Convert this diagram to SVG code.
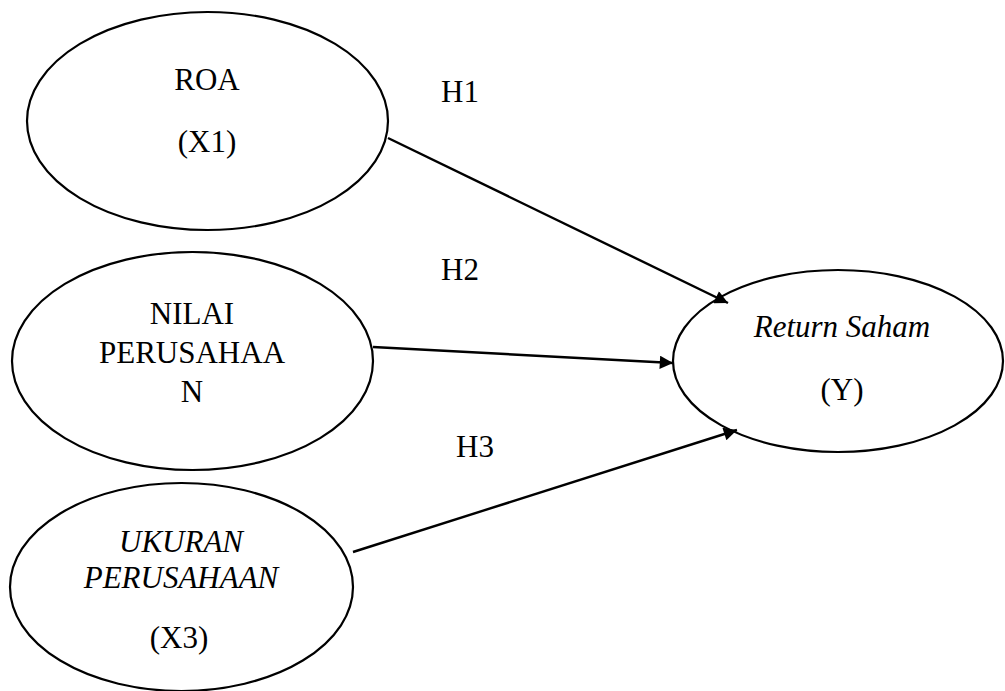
<svg xmlns="http://www.w3.org/2000/svg" width="1005" height="691" viewBox="0 0 1005 691">
<defs>
<style>
.node ellipse{fill:#fff;stroke:#000;stroke-width:2.2}
text{font-family:"Times New Roman",Times,"Liberation Serif","DejaVu Serif",serif;font-size:31px;fill:#000;text-anchor:middle}
.it{font-style:italic}
.conn line{stroke:#000;stroke-width:2.4}
</style>
<marker id="arr" viewBox="0 0 10 10" refX="10" refY="5" markerWidth="6.5" markerHeight="5.5" markerUnits="strokeWidth" orient="auto">
<path d="M0,0 L10,5 L0,10 Z" fill="#000"/>
</marker>
</defs>
<rect width="1005" height="691" fill="#fff"/>
<g id="roa" class="node">
<ellipse cx="207.5" cy="121" rx="180.5" ry="109"/>
<text x="207" y="90">ROA</text>
<text x="207" y="152">(X1)</text>
</g>
<g id="nilai" class="node">
<ellipse cx="192.5" cy="361" rx="180.5" ry="109"/>
<text x="192" y="324">NILAI</text>
<text x="192" y="363">PERUSAHAA</text>
<text x="192" y="402">N</text>
</g>
<g id="ukuran" class="node">
<ellipse cx="181.5" cy="587" rx="171.5" ry="104"/>
<text class="it" x="181" y="552">UKURAN</text>
<text class="it" x="181" y="588">PERUSAHAAN</text>
<text x="179" y="648">(X3)</text>
</g>
<g id="return" class="node">
<ellipse cx="838" cy="361" rx="165" ry="91"/>
<text class="it" x="842" y="337">Return Saham</text>
<text x="842" y="400">(Y)</text>
</g>
<g id="labels">
<text x="460" y="102">H1</text>
<text x="460" y="280">H2</text>
<text x="475" y="457">H3</text>
</g>
<g id="connectors" class="conn">
<line x1="388" y1="138" x2="728" y2="303" marker-end="url(#arr)"/>
<line x1="373" y1="347" x2="673" y2="363" marker-end="url(#arr)"/>
<line x1="353" y1="552" x2="737" y2="430" marker-end="url(#arr)"/>
</g>
</svg>
